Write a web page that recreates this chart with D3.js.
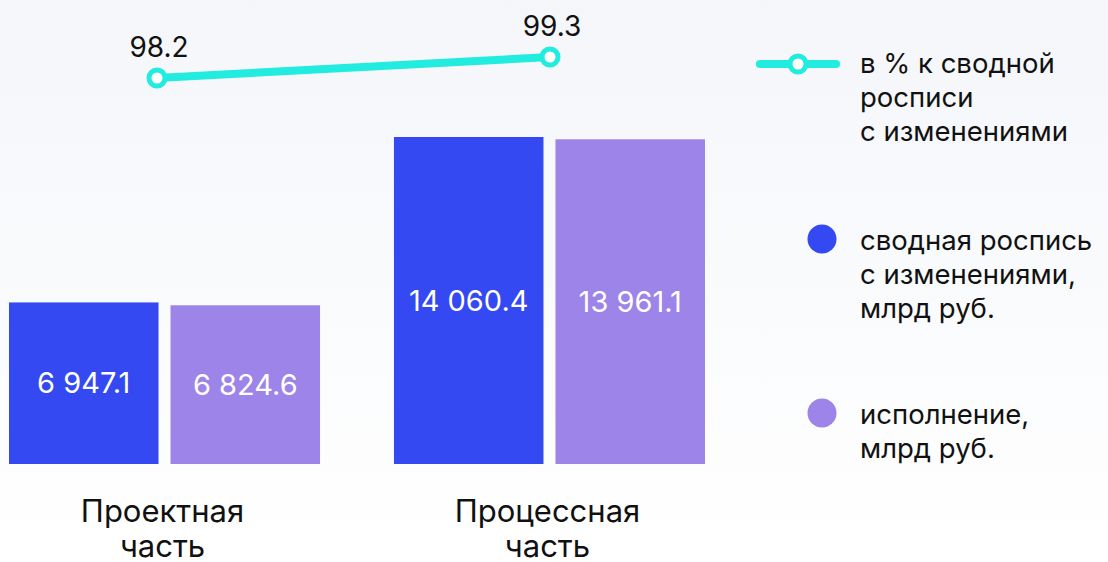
<!DOCTYPE html>
<html>
<head>
<meta charset="utf-8">
<script src="https://cdn.jsdelivr.net/npm/d3@7"></script>
<style>
  html, body { margin: 0; padding: 0; }
  body { width: 1108px; height: 562px; overflow: hidden;
         background: linear-gradient(#f4f6fa, #ffffff); }
  svg { display: block; }
</style>
</head>
<body>
<div id="chart"></div>
<script>
// données du graphique
const categories = [["Проектная", "часть"], ["Процессная", "часть"]];
const series = ["сводная роспись с изменениями, млрд руб.", "исполнение, млрд руб."];
const plan = [6947.1, 14060.4];
const fact = [6824.6, 13961.1];
const percent = [98.2, 99.3];
const legendLines = [
  ["в % к сводной", "росписи", "с изменениями"],
  ["сводная роспись", "с изменениями,", "млрд руб."],
  ["исполнение,", "млрд руб."]
];

const W = 1108, H = 562;
const colors = ["#3449f1", "#9d84e8"];
const teal = "#22ebdf";
const font = "Inter, 'Noto Sans', sans-serif";

const svg = d3.select("#chart").append("svg")
  .attr("width", W).attr("height", H);

// échelles
const x0 = d3.scaleBand()
  .domain(d3.range(categories.length))
  .range([9, 705])
  .paddingInner(0.192)
  .paddingOuter(0);

const x1 = d3.scaleBand()
  .domain([0, 1])
  .range([0, x0.bandwidth()])
  .paddingInner(0.0743);

const y = d3.scaleLinear()
  .domain([0, 14060.4])
  .range([464, 137]);

const yLine = d3.scaleLinear()
  .domain([98.2, 99.3])
  .range([78, 57]);

const xLine = d3.scalePoint()
  .domain(d3.range(categories.length))
  .range([157, 550]);

const fmt = v => d3.format(",.1f")(v).replace(/,/g, " ");

// barres
const groups = svg.selectAll("g.grp")
  .data(categories.map((c, i) => ({ i, vals: [plan[i], fact[i]] })))
  .enter().append("g")
  .attr("transform", d => `translate(${x0(d.i)},0)`);

groups.selectAll("rect")
  .data(d => d.vals)
  .enter().append("rect")
  .attr("x", (d, j) => x1(j))
  .attr("y", d => y(d))
  .attr("width", x1.bandwidth())
  .attr("height", d => y(0) - y(d))
  .attr("fill", (d, j) => colors[j]);

groups.selectAll("text.val")
  .data(d => d.vals)
  .enter().append("text")
  .attr("x", (d, j) => x1(j) + x1.bandwidth() / 2)
  .attr("y", d => (y(d) + y(0)) / 2)
  .attr("dy", "0.35em")
  .attr("text-anchor", "middle")
  .style("font-family", font)
  .style("font-size", "29px")
  .attr("fill", "#fff")
  .text(d => fmt(d));

// libellés des catégories (deux lignes)
groups.each(function (d) {
  d3.select(this).selectAll("text.cat")
    .data(categories[d.i])
    .enter().append("text")
    .attr("class", "cat")
    .attr("text-anchor", "middle")
    .attr("x", x0.bandwidth() / 2 - 2)
    .attr("y", (t, k) => 522 + k * 35)
    .style("font-family", font)
    .style("font-size", "31px")
    .attr("fill", "#111")
    .text(t => t);
});

// ligne des pourcentages
const line = d3.line()
  .x((d, i) => xLine(i))
  .y(d => yLine(d));

svg.append("path")
  .datum(percent)
  .attr("d", line)
  .attr("fill", "none")
  .attr("stroke", teal)
  .attr("stroke-width", 8);

svg.selectAll("circle.pt")
  .data(percent)
  .enter().append("circle")
  .attr("cx", (d, i) => xLine(i))
  .attr("cy", d => yLine(d))
  .attr("r", 8)
  .attr("fill", "#fff")
  .attr("stroke", teal)
  .attr("stroke-width", 5);

svg.selectAll("text.pct")
  .data(percent)
  .enter().append("text")
  .attr("x", (d, i) => xLine(i) + 2)
  .attr("y", d => yLine(d) - 21)
  .attr("text-anchor", "middle")
  .style("font-family", font)
  .style("font-size", "28px")
  .attr("fill", "#111")
  .text(d => d.toFixed(1));

// légende
const leg = svg.append("g");
const legY = [73, 250, 424];

leg.append("line")
  .attr("x1", 760).attr("x2", 836)
  .attr("y1", 64).attr("y2", 64)
  .attr("stroke", teal).attr("stroke-width", 8)
  .attr("stroke-linecap", "round");
leg.append("circle")
  .attr("cx", 798).attr("cy", 64).attr("r", 8)
  .attr("fill", "#fff").attr("stroke", teal).attr("stroke-width", 5);

leg.selectAll("circle.dot")
  .data(colors)
  .enter().append("circle")
  .attr("cx", 822)
  .attr("cy", (d, i) => legY[i + 1] - 11)
  .attr("r", 14.5)
  .attr("fill", d => d);

leg.selectAll("text")
  .data(legendLines)
  .enter().append("text")
  .style("font-family", font)
  .style("font-size", "27.5px")
  .attr("fill", "#111")
  .each(function (lines, i) {
    d3.select(this).selectAll("tspan")
      .data(lines)
      .enter().append("tspan")
      .attr("x", 860)
      .attr("y", (d, k) => legY[i] + k * 34)
      .text(d => d);
  });
</script>
</body>
</html>
